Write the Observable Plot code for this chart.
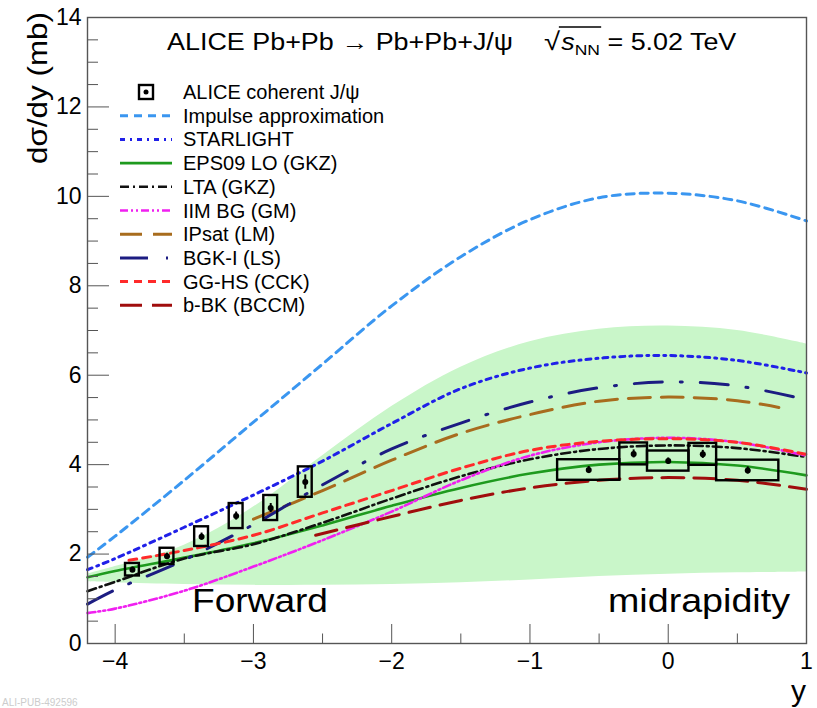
<!DOCTYPE html>
<html><head><meta charset="utf-8">
<script src="https://cdn.jsdelivr.net/npm/d3@7"></script>
<script src="https://cdn.jsdelivr.net/npm/@observablehq/plot@0.6"></script>
<style>
body{margin:0;background:#fff;font-family:"Liberation Sans",Arial,Helvetica,sans-serif;}
#wrap{position:relative;width:817px;height:708px;overflow:hidden;background:#fff;}
#wrap > svg{position:absolute;left:0;top:0;}
</style></head><body><div id="wrap"></div>
<script>
// ---------- data ----------
const yGrid = [-4.2, -4, -3.5, -3, -2.5, -2, -1.5, -1, -0.5, 0, 0.5, 1];
const impulseApprox = [1.93, 2.4, 3.65, 4.95, 6.25, 7.55, 8.65, 9.48, 9.97, 10.07, 9.9, 9.45];
const starlight     = [1.65, 1.9, 2.6, 3.32, 4.08, 4.92, 5.7, 6.16, 6.38, 6.44, 6.33, 6.05];
const eps09         = [1.48, 1.62, 1.92, 2.24, 2.64, 3.08, 3.48, 3.8, 4.0, 4.06, 3.98, 3.76];
const lta           = [1.17, 1.38, 1.9, 2.22, 2.7, 3.24, 3.74, 4.12, 4.35, 4.43, 4.37, 4.17];
const iimBG         = [0.68, 0.78, 1.18, 1.72, 2.31, 2.95, 3.65, 4.2, 4.5, 4.6, 4.5, 4.2];
const bgkI          = [0.88, 1.2, 1.87, 2.66, 3.55, 4.35, 4.93, 5.4, 5.72, 5.85, 5.76, 5.45];
const ipsatGrid = [-3, -2.5, -2, -1.5, -1, -0.5, 0, 0.5, 0.8];
const ipsat     = [2.78, 3.42, 4.1, 4.7, 5.12, 5.42, 5.51, 5.43, 5.28];
const gghsGrid = [-3.9, -3.5, -3, -2.5, -2, -1.5, -1, -0.5, 0, 0.5, 1];
const gghs     = [1.86, 2.08, 2.42, 2.92, 3.42, 3.92, 4.32, 4.52, 4.58, 4.5, 4.23];
const bbkGrid = [-2.55, -2, -1.5, -1, -0.5, 0, 0.5, 1];
const bbk     = [2.42, 2.84, 3.2, 3.48, 3.65, 3.71, 3.65, 3.45];
const bandLow  = [1.38, 1.36, 1.32, 1.3, 1.3, 1.32, 1.36, 1.42, 1.5, 1.55, 1.58, 1.6];
const bandHigh = [1.55, 1.72, 2.2, 3.05, 4.2, 5.3, 6.18, 6.75, 7.03, 7.1, 7.0, 6.7];

const fwdRap  = [-3.875, -3.625, -3.375, -3.125, -2.875, -2.625];
const fwdXsec = [1.65, 1.95, 2.39, 2.85, 3.03, 3.61];
const fwdSys  = [0.14, 0.18, 0.22, 0.28, 0.28, 0.34];
const fwdStat = [0.06, 0.07, 0.08, 0.09, 0.1, 0.16];
const midRapLo = [-0.8, -0.35, -0.15, 0.15, 0.35];
const midRapHi = [-0.35, -0.15, 0.15, 0.35, 0.8];
const midXsec  = [3.88, 4.24, 4.08, 4.23, 3.87];
const midSys   = [0.23, 0.245, 0.225, 0.245, 0.23];
const midStat  = [0.08, 0.09, 0.07, 0.09, 0.08];

const modelNames = ["Impulse approximation", "STARLIGHT", "EPS09 LO (GKZ)", "LTA (GKZ)", "IIM BG (GM)", "IPsat (LM)", "BGK-I (LS)", "GG-HS (CCK)", "b-BK (BCCM)"];
const dataLabel = "ALICE coherent J/\u03c8";
const xTicks = [-4, -3, -2, -1, 0, 1];
const xMinorTicks = [-3.5, -2.5, -1.5, -0.5, 0.5];
const yTicks = [0, 2, 4, 6, 8, 10, 12, 14];
const yMinorTicks = d3.range(0.5, 14, 0.5).filter(v => v % 2 !== 0);

// ---------- styles ----------
const styles = {
  "Impulse approximation": {stroke: "#3a96f0", dash: "8,6", w: 3},
  "STARLIGHT": {stroke: "#2020e8", dash: "5,5,2,5", w: 3},
  "EPS09 LO (GKZ)": {stroke: "#1e9a1e", dash: null, w: 2.6},
  "LTA (GKZ)": {stroke: "#111", dash: "9,4,2,4", w: 2.6},
  "IIM BG (GM)": {stroke: "#f020f0", dash: "8,3,2,3,2,3", w: 2.6},
  "IPsat (LM)": {stroke: "#a86c1e", dash: "22,11", w: 3},
  "BGK-I (LS)": {stroke: "#1c1c82", dash: "28,18,2,18", w: 3},
  "GG-HS (CCK)": {stroke: "#ff2a2a", dash: "8,6", w: 3},
  "b-BK (BCCM)": {stroke: "#a00d0d", dash: "22,10", w: 3}
};
const series = {
  "Impulse approximation": [yGrid, impulseApprox],
  "STARLIGHT": [yGrid, starlight],
  "EPS09 LO (GKZ)": [yGrid, eps09],
  "LTA (GKZ)": [yGrid, lta],
  "IIM BG (GM)": [yGrid, iimBG],
  "IPsat (LM)": [ipsatGrid, ipsat],
  "BGK-I (LS)": [yGrid, bgkI],
  "GG-HS (CCK)": [gghsGrid, gghs],
  "b-BK (BCCM)": [bbkGrid, bbk]
};

const bandRows = yGrid.map((y, i) => ({y, lo: bandLow[i], hi: bandHigh[i]}));
const fwdRows = fwdRap.map((y, i) => ({y, v: fwdXsec[i], sys: fwdSys[i], stat: fwdStat[i], lo: y - 0.05, hi: y + 0.05}));
const midRows = midRapLo.map((lo, i) => ({lo, hi: midRapHi[i], y: (lo + midRapHi[i]) / 2, v: midXsec[i], sys: midSys[i], stat: midStat[i]}));
const allPts = fwdRows.concat(midRows);

const lineMarks = modelNames.map(name => {
  const [xs, vs] = series[name];
  const s = styles[name];
  const rows = xs.map((x, i) => ({x, v: vs[i]}));
  return Plot.line(rows, {x: "x", y: "v", stroke: s.stroke, strokeWidth: s.w, strokeDasharray: s.dash, curve: "catmull-rom"});
});

const fmtX = d => d < 0 ? "\u2212" + Math.abs(d) : String(d);
const FONT = "Liberation Sans, Arial, Helvetica, sans-serif";

const plot = Plot.plot({
  width: 817, height: 708,
  marginLeft: 87, marginRight: 11, marginTop: 17, marginBottom: 65,
  x: {domain: [-4.2, 1]},
  y: {domain: [0, 14]},
  style: {fontFamily: FONT, fontSize: "22px", color: "#000", background: "transparent"},
  marks: [
    Plot.areaY(bandRows, {x: "y", y1: "lo", y2: "hi", fill: "#c9f6c9", curve: "catmull-rom"}),
    ...lineMarks,
    Plot.rect(allPts, {x1: "lo", x2: "hi", y1: d => d.v - d.sys, y2: d => d.v + d.sys, fill: "none", stroke: "#000", strokeWidth: 2.4}),
    Plot.ruleX(allPts, {x: "y", y1: d => d.v - d.stat, y2: d => d.v + d.stat, stroke: "#000", strokeWidth: 2}),
    Plot.dot(allPts, {x: "y", y: "v", r: 3, fill: "#000", stroke: "none"}),
    Plot.frame({stroke: "#555", strokeWidth: 1.4}),
    Plot.axisX({ticks: xTicks, tickSize: -19, tickFormat: () => "", stroke: "#555"}),
    Plot.axisX({ticks: xMinorTicks, tickSize: -9.5, tickFormat: () => "", stroke: "#555"}),
    Plot.axisX({ticks: xTicks, tickSize: 0, tickPadding: 9, tickFormat: fmtX, fontSize: 23}),
    Plot.axisY({ticks: yTicks, tickSize: -22, tickFormat: () => "", stroke: "#555"}),
    Plot.axisY({ticks: yMinorTicks, tickSize: -11, tickFormat: () => "", stroke: "#555"}),
    Plot.axisY({ticks: yTicks, tickSize: 0, tickPadding: 6, tickFormat: d => String(d), fontSize: 23})
  ]
});
document.getElementById("wrap").appendChild(plot);

// ---------- overlays (titles, legend, annotations) ----------
const ov = d3.select("#wrap").append("svg")
  .attr("width", 817).attr("height", 708)
  .style("position", "absolute").style("left", 0).style("top", 0)
  .attr("font-family", FONT);

// y-axis title
ov.append("text").attr("transform", "translate(47,12) rotate(-90)")
  .attr("text-anchor", "end").attr("font-size", 28)
  .attr("textLength", 152).attr("lengthAdjust", "spacingAndGlyphs").text("d\u03c3/dy (mb)");
// x-axis title
ov.append("text").attr("x", 806).attr("y", 701).attr("text-anchor", "end")
  .attr("font-size", 30).text("y");

// main title
ov.append("text").attr("x", 167).attr("y", 50).attr("font-size", 23)
  .attr("textLength", 346).attr("lengthAdjust", "spacingAndGlyphs")
  .text("ALICE Pb+Pb \u2192 Pb+Pb+J/\u03c8");
const sq = ov.append("g").attr("transform", "translate(544,0) scale(1.17,1) translate(-544,0)");
const sqText = sq.append("text").attr("x", 544).attr("y", 50).attr("font-size", 23);
sqText.append("tspan").attr("font-size", 25).text("\u221a");
sqText.append("tspan").attr("font-style", "italic").attr("dx", 1).text("s");
sqText.append("tspan").attr("font-size", 15).attr("dy", 5).text("NN");
sqText.append("tspan").attr("dy", -5).attr("font-size", 23).text(" = 5.02 TeV");
{
  const node = sqText.node();
  const sx = node.getEndPositionOfChar(0).x;
  const ex = node.getEndPositionOfChar(3).x;
  sq.append("line").attr("x1", sx - 1).attr("x2", ex + 1).attr("y1", 27).attr("y2", 27)
    .attr("stroke", "#000").attr("stroke-width", 1.3);
}

// legend
const lg = ov.append("g");
const rowY = i => 92 + i * 23.7;
const lx1 = 120, lx2 = 172, tx = 183;
lg.append("rect").attr("x", 139).attr("y", rowY(0) - 7).attr("width", 14).attr("height", 14)
  .attr("fill", "none").attr("stroke", "#000").attr("stroke-width", 2.4);
lg.append("circle").attr("cx", 146).attr("cy", rowY(0)).attr("r", 2.5).attr("fill", "#000");
lg.append("text").attr("x", tx).attr("y", rowY(0)).attr("dy", "0.35em").attr("font-size", 20).text(dataLabel);
modelNames.forEach((name, k) => {
  const s = styles[name];
  const y = rowY(k + 1);
  lg.append("line").attr("x1", lx1).attr("x2", lx2).attr("y1", y).attr("y2", y)
    .attr("stroke", s.stroke).attr("stroke-width", s.w).attr("stroke-dasharray", s.dash);
  lg.append("text").attr("x", tx).attr("y", y).attr("dy", "0.35em").attr("font-size", 20).text(name);
});

// region annotations
ov.append("text").attr("x", 192).attr("y", 612).attr("font-size", 33)
  .attr("textLength", 136).attr("lengthAdjust", "spacingAndGlyphs").text("Forward");
ov.append("text").attr("x", 608).attr("y", 612).attr("font-size", 33)
  .attr("textLength", 182).attr("lengthAdjust", "spacingAndGlyphs").text("midrapidity");
// faint figure id at the bottom edge
ov.append("text").attr("x", 2).attr("y", 706).attr("font-size", 10).attr("fill", "#ccc").text("ALI-PUB-492596");
</script></body></html>
